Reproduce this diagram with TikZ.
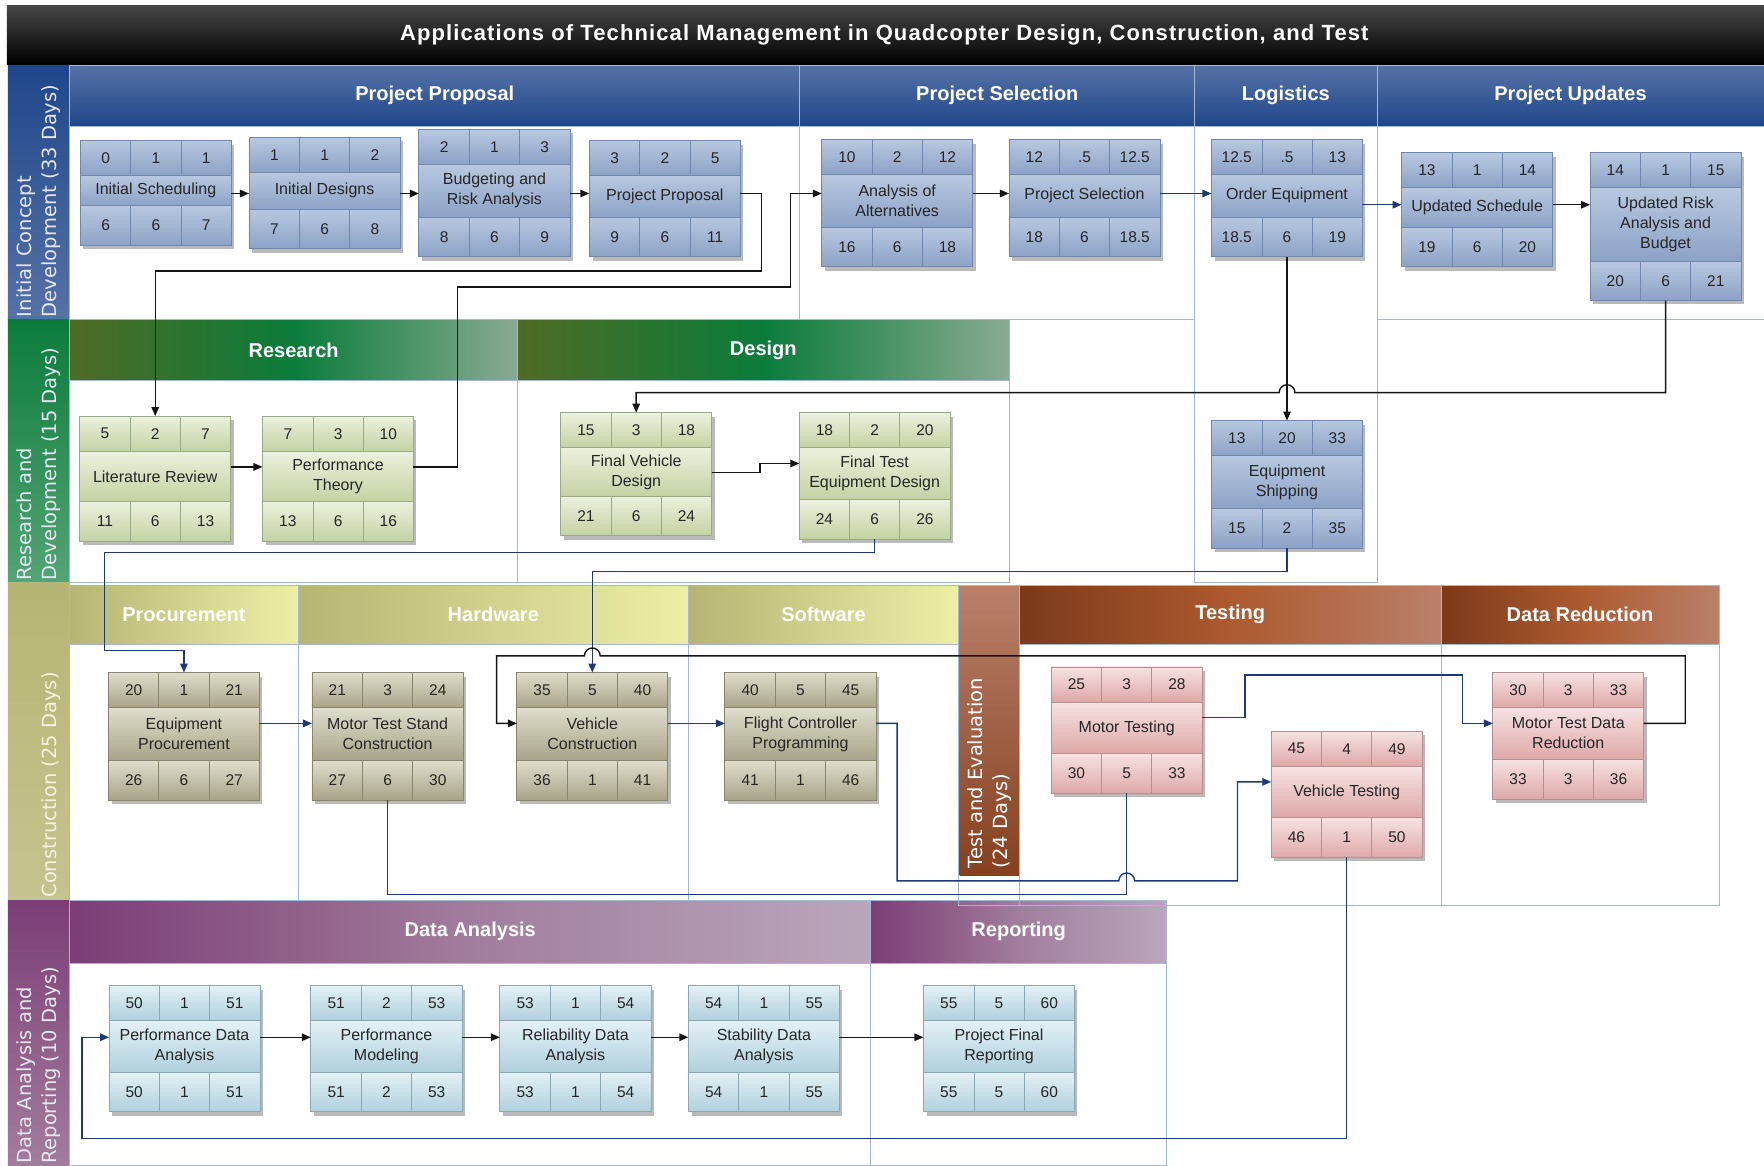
\documentclass[tikz,border=0pt]{standalone}
\usepackage{fontspec}
\setmainfont{Liberation Sans}
\newfontfamily\lanefont{DejaVu Sans}
\newfontfamily\titlefont[LetterSpace=5]{Liberation Sans}
\usetikzlibrary{arrows.meta,fit,shadows}

\definecolor{bltop}{HTML}{B8C8DF}
\definecolor{blbot}{HTML}{8CA2C6}
\definecolor{blline}{HTML}{7088B0}
\definecolor{grtop}{HTML}{EBF1DD}
\definecolor{grbot}{HTML}{C4D2A3}
\definecolor{grline}{HTML}{98AA88}
\definecolor{khtop}{HTML}{DFDDCC}
\definecolor{khbot}{HTML}{A8A488}
\definecolor{khline}{HTML}{88856C}
\definecolor{pktop}{HTML}{F7E2E2}
\definecolor{pkbot}{HTML}{DEA8A8}
\definecolor{pkline}{HTML}{B49090}
\definecolor{cytop}{HTML}{E4F1F6}
\definecolor{cybot}{HTML}{B0D0DD}
\definecolor{cyline}{HTML}{8CA8B5}
\definecolor{txt}{HTML}{262626}
\definecolor{bodyln}{HTML}{A3B7D8}
\definecolor{lnblue}{HTML}{1C3A78}
\definecolor{lnblack}{HTML}{151515}
\definecolor{hdbltop}{HTML}{5672A6}
\definecolor{hdblbot}{HTML}{1F4789}
\definecolor{hdgrl}{HTML}{4F6A24}
\definecolor{hdgrm}{HTML}{0B7C3B}
\definecolor{hdgrr}{HTML}{88AA92}
\definecolor{hdkhl}{HTML}{B6B574}
\definecolor{hdkhr}{HTML}{EDEFA6}
\definecolor{hdbrl}{HTML}{7B3A1B}
\definecolor{hdbrm}{HTML}{AD5A2F}
\definecolor{hdbrr}{HTML}{B9806A}
\definecolor{hdpul}{HTML}{7C3D76}
\definecolor{hdpum}{HTML}{A17D9C}
\definecolor{hdpur}{HTML}{BAA7BC}
\definecolor{lanetx}{HTML}{E4E7F0}
\definecolor{lanekh}{HTML}{F4F4DC}

\tikzset{
  arr/.style={-{Triangle[length=9pt,width=7.5pt]}, line width=1.4pt, draw=lnblack},
  arrb/.style={arr, draw=lnblue},
  lineb/.style={line width=1.4pt, draw=lnblue},
  taskframe/.style={inner sep=0pt, fill=white,
    drop shadow={shadow xshift=3pt, shadow yshift=-4pt, opacity=0.45, fill=black!60}},
  num/.style={font=\fontsize{15.5}{18}\selectfont, text=txt, inner sep=0pt},
  tasklabel/.style={font=\fontsize{16}{20}\selectfont, text=txt, align=center, inner sep=0pt},
  body/.style={draw=bodyln, line width=0.9pt},
  headtext/.style={font=\fontsize{20}{24}\selectfont\bfseries, text=white},
  lanetext/.style={font=\lanefont\fontsize{19.5}{25.5}\selectfont, rotate=90,
    anchor=west, align=left, inner sep=0pt},
}

% name, colour, centre x, top, bottom, top row, task, bottom row, connector y
\newcommand{\task}[9]{%
  \node[taskframe, fit={({#3-67},#4) ({#3+67},#5)}] (#1) {};
  \coordinate (#1A) at ({#3-67},{#4+31});
  \coordinate (#1B) at ({#3+67},{#5-35});
  \shade[top color=#2top, bottom color=#2bot] (#1.north west) rectangle (#1A -| #1.east);
  \shade[top color=#2top, bottom color=#2bot] (#1A) rectangle (#1B);
  \shade[top color=#2top, bottom color=#2bot] (#1B -| #1.west) rectangle (#1.south east);
  \draw[#2line, line width=0.8pt] (#1A) -- (#1A -| #1.east) (#1B -| #1.west) -- (#1B)
    ({#3-22.3},#4) -- ({#3-22.3},{#4+31}) ({#3+22.3},#4) -- ({#3+22.3},{#4+31})
    ({#3-22.3},{#5-35}) -- ({#3-22.3},#5) ({#3+22.3},{#5-35}) -- ({#3+22.3},#5);
  \draw[#2line, line width=0.8pt] (#1.north west) rectangle (#1.south east);
  \foreach \v [count=\i] in {#6}
    \node[num] (#1T\i) at ({#3+(\i-2)*44.67},{#4+15.5}) {\v};
  \node[tasklabel] (#1L) at (#3,{(#4+#5-4)/2}) {#7};
  \foreach \v [count=\i] in {#8}
    \node[num] (#1N\i) at ({#3+(\i-2)*44.67},{#5-17.5}) {\v};
  \coordinate (#1W) at ({#3-67},#9);
  \coordinate (#1E) at ({#3+67},#9);
}

\begin{document}
\begin{tikzpicture}[x=1.125pt,y=-1.125pt]
  \useasboundingbox[fill=white] (0,0) rectangle (1568,1036);

  % title and lanes
  \shade[top color=black!72, bottom color=black] (6,5) rectangle (1568,57);
  \shade[top color=hdblbot, bottom color=hdbltop] (7,58) rectangle (62,284);
  \shade[top color=hdgrm, bottom color=hdgrm!70!white] (7,284) rectangle (62,518);
  \shade[top color=hdkhl, bottom color=hdkhl!80!white] (7,518) rectangle (62,800);
  \shade[top color=hdpul, bottom color=hdpum] (7,800) rectangle (62,1036);

  \shade[top color=hdbltop, bottom color=hdblbot] (62,58) rectangle (1568,112);
  \shade[left color=hdgrl, right color=hdgrr, middle color=hdgrm] (62,284) rectangle (460,338);
  \shade[left color=hdgrl, right color=hdgrr, middle color=hdgrm] (460,284) rectangle (897,338);
  \shade[left color=hdkhl, right color=hdkhr] (62,520) rectangle (265,573);
  \shade[left color=hdkhl, right color=hdkhr] (265,520) rectangle (612,573);
  \shade[left color=hdkhl, right color=hdkhr] (612,520) rectangle (852,573);
  \shade[top color=hdbrr, bottom color=hdbrl!80!hdbrm] (853,520) rectangle (906,778);
  \shade[left color=hdbrl, right color=hdbrr, middle color=hdbrm] (906,520) rectangle (1281,573);
  \shade[left color=hdbrl, right color=hdbrr, middle color=hdbrm] (1281,520) rectangle (1528,573);
  \shade[left color=hdpul, right color=hdpur, middle color=hdpum] (62,800) rectangle (774,856);
  \shade[left color=hdpul, right color=hdpur, middle color=hdpum] (774,800) rectangle (1037,856);

  \draw[body] (62,58) rectangle (711,284) (62,112) -- (1568,112);
  \draw[body] (711,58) rectangle (1062,284);
  \draw[body] (1062,58) rectangle (1224,518);
  \draw[body] (1224,58) rectangle (1568,284);
  \draw[body] (62,284) rectangle (460,518) (62,338) -- (897,338);
  \draw[body] (460,284) rectangle (897,518);
  \draw[body] (62,520) rectangle (265,800) (62,573) -- (852,573);
  \draw[body] (265,520) rectangle (612,800);
  \draw[body] (612,520) rectangle (852,800);
  \draw[body] (852,520) rectangle (906,805);
  \draw[body] (906,520) rectangle (1281,805) (906,573) -- (1528,573);
  \draw[body] (1281,520) rectangle (1528,805);
  \draw[body] (62,800) rectangle (774,1036) (62,856) -- (1037,856);
  \draw[body] (774,800) rectangle (1037,1036);

  \node[font=\titlefont\fontsize{22}{26}\selectfont\bfseries, text=white] (title) at (786,31)
    {Applications of Technical Management in Quadcopter Design, Construction, and Test};
  \node[lanetext, text=lanetx] (lane1) at (34.5,282) {Initial Concept\\Development (33 Days)};
  \node[lanetext, text=lanetx] (lane2) at (34.5,516) {Research and\\Development (15 Days)};
  \node[lanetext, text=lanekh] (lane3) at (45,798) {Construction (25 Days)};
  \node[lanetext, text=lanetx] (lane4) at (34.5,1034) {Data Analysis and\\Reporting (10 Days)};
  \node[lanetext, text=white] (lane5) at (879.5,772) {Test and Evaluation\\(24 Days)};

  \node[headtext] (hPP) at (386.5,85) {Project Proposal};
  \node[headtext] (hPS) at (886.5,85) {Project Selection};
  \node[headtext] (hLG) at (1143,85) {Logistics};
  \node[headtext] (hPU) at (1396,85) {Project Updates};
  \node[headtext] (hRS) at (261,311) {Research};
  \node[headtext] (hDS) at (678.5,311) {Design};
  \node[headtext] (hPC) at (163.5,546.5) {Procurement};
  \node[headtext] (hHW) at (438.5,546.5) {Hardware};
  \node[headtext] (hSW) at (732,546.5) {Software};
  \node[headtext] (hTS) at (1093.5,546.5) {Testing};
  \node[headtext] (hDR) at (1404.5,546.5) {Data Reduction};
  \node[headtext] (hDA) at (418,828) {Data Analysis};
  \node[headtext] (hRP) at (905.5,828) {Reporting};

  % tasks
  \task{is}{bl}{138.5}{125}{218}{0,1,1}{Initial Scheduling}{6,6,7}{172}
  \task{id}{bl}{288.5}{122}{221}{1,1,2}{Initial Designs}{7,6,8}{172}
  \task{br}{bl}{439.5}{115}{228}{2,1,3}{Budgeting and\\Risk Analysis}{8,6,9}{172}
  \task{pp}{bl}{591}{125}{228}{3,2,5}{Project Proposal}{9,6,11}{172}
  \task{aa}{bl}{797.5}{124}{237}{10,2,12}{Analysis of\\Alternatives}{16,6,18}{172}
  \task{ps}{bl}{964}{124}{228}{12,.5,12.5}{Project Selection}{18,6,18.5}{172}
  \task{oe}{bl}{1144}{124}{228}{12.5,.5,13}{Order Equipment}{18.5,6,19}{182}
  \task{us}{bl}{1313}{136}{237}{13,1,14}{Updated Schedule}{19,6,20}{182}
  \task{ur}{bl}{1480.5}{136}{267}{14,1,15}{Updated Risk\\Analysis and\\Budget}{20,6,21}{182}
  \task{lr}{gr}{138}{370}{481}{5,2,7}{Literature Review}{11,6,13}{415}
  \task{pth}{gr}{300.5}{370}{481}{7,3,10}{Performance\\Theory}{13,6,16}{415}
  \task{fv}{gr}{565.5}{367}{476}{15,3,18}{Final Vehicle\\Design}{21,6,24}{420}
  \task{fe}{gr}{777.5}{367}{479}{18,2,20}{Final Test\\Equipment Design}{24,6,26}{412}
  \task{es}{bl}{1144}{374}{487}{13,20,33}{Equipment\\Shipping}{15,2,35}{430}
  \task{ep}{kh}{163.5}{598}{711}{20,1,21}{Equipment\\Procurement}{26,6,27}{643}
  \task{ms}{kh}{344.5}{598}{711}{21,3,24}{Motor Test Stand\\Construction}{27,6,30}{643}
  \task{vc}{kh}{526.5}{598}{711}{35,5,40}{Vehicle\\Construction}{36,1,41}{643}
  \task{fc}{kh}{711.5}{598}{711}{40,5,45}{Flight Controller\\Programming}{41,1,46}{643}
  \task{mt}{pk}{1001.5}{593}{705}{25,3,28}{Motor Testing}{30,5,33}{638}
  \task{vt}{pk}{1197}{650}{762}{45,4,49}{Vehicle Testing}{46,1,50}{695}
  \task{md}{pk}{1394}{598}{710}{30,3,33}{Motor Test Data\\Reduction}{33,3,36}{643}
  \task{pd}{cy}{164}{876}{988}{50,1,51}{Performance Data\\Analysis}{50,1,51}{922}
  \task{pm}{cy}{343.5}{876}{988}{51,2,53}{Performance\\Modeling}{51,2,53}{922}
  \task{rd}{cy}{511.5}{876}{988}{53,1,54}{Reliability Data\\Analysis}{53,1,54}{922}
  \task{sd}{cy}{679}{876}{988}{54,1,55}{Stability Data\\Analysis}{54,1,55}{922}
  \task{pf}{cy}{888}{876}{988}{55,5,60}{Project Final\\Reporting}{55,5,60}{922}

  % links
  \draw[arr] (isE) -- (isE -| id.west);
  \draw[arr] (idE) -- (idE -| br.west);
  \draw[arr] (brE) -- (brE -| pp.west);
  \draw[arr] (ppE) -- ++(19,0) -- ++(0,69) -| (lr.north);
  \draw[arr] (pthE) -- ++(39,0) -- ++(0,-160) -| ([xshift=-31.5pt]aaW) -- (aaW);
  \draw[arr] (aaE) -- (aaE -| ps.west);
  \draw[arrb] (psE) -- (psE -| oe.west);
  \draw[arrb] (oeE) -- (oeE -| us.west);
  \draw[arr] (usE) -- (usE -| ur.west);
  \draw[arr] (lrE) -- (lrE -| pth.west);
  \draw[arr] (fvE) -- ++(43,0) |- (feW);
  \coordinate (j1) at (oe.south |- 0,349);
  \draw[arr] (oe.south) -- (es.north);
  \draw[arr] (ur.south) |- ([xshift=7.9pt]j1) arc[start angle=0,end angle=180,radius=7.9pt] -| (fv.north);
  \draw[arrb] (fe.south) -- ++(0,12) -- ++(-684.5,0) -- ++(0,87) -| (ep.north);
  \draw[arrb] (es.south) -- ++(0,21) -| (vc.north);
  \draw[arrb] (epE) -- (epE -| ms.west);
  \draw[arrb] (vcE) -- (vcE -| fc.west);
  \coordinate (j2) at (mt.south |- 0,783);
  \draw[arrb] (fcE) -- ++(19,0) |- ([xshift=-7.9pt]j2) arc[start angle=180,end angle=0,radius=7.9pt] -| ([xshift=-33.75pt]vtW) -- (vtW);
  \draw[lineb] (ms.south) -- ++(0,84) -| (mt.south);
  \draw[arrb] (mtE) -- ++(38,0) -- ++(0,-38) -| ([xshift=-30.4pt]mdW) -- (mdW);
  \coordinate (j4) at (vc.north |- 0,583);
  \draw[arr] (mdE) -- ++(37,0) |- ([xshift=7.9pt]j4) arc[start angle=0,end angle=180,radius=7.9pt] -| ([xshift=-20.25pt]vcW) -- (vcW);
  \draw[arrb] (vt.south) -- ++(0,250) -| ([xshift=-27pt]pdW) -- (pdW);
  \draw[arr] (pdE) -- (pdE -| pm.west);
  \draw[arr] (pmE) -- (pmE -| rd.west);
  \draw[arr] (rdE) -- (rdE -| sd.west);
  \draw[arr] (sdE) -- (sdE -| pf.west);
\end{tikzpicture}
\end{document}
